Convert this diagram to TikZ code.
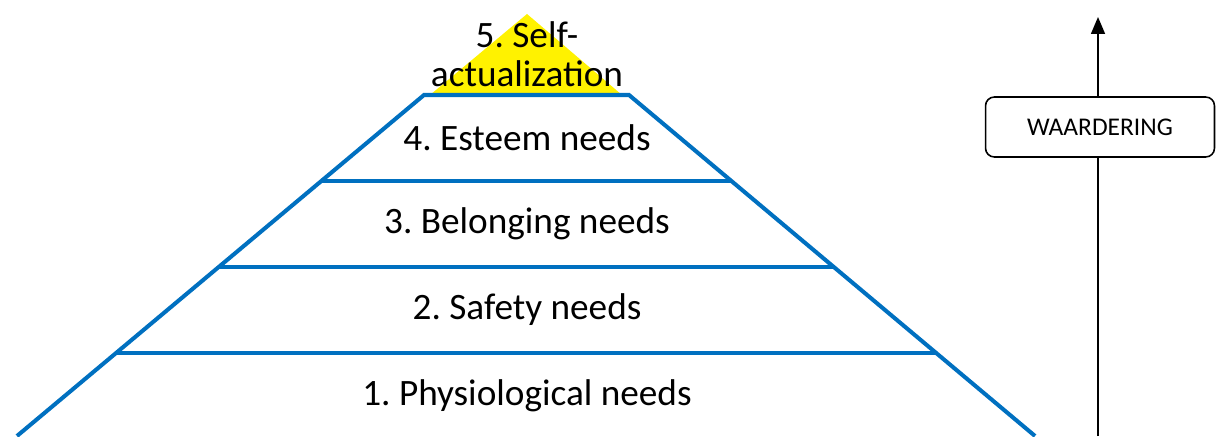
\documentclass[tikz,border=0pt]{standalone}
\usepackage{fontspec}
\setmainfont{Carlito}
\usetikzlibrary{arrows.meta}
\definecolor{lvlblue}{RGB}{0,112,192}
\frenchspacing
\tikzset{
  level/.style={draw=lvlblue, line width=2.3pt},
  needtext/.style={font=\fontsize{21.2}{22.5}\selectfont, align=center, inner sep=0pt},
  valuebox/.style={draw, rounded corners=5pt, line width=0.9pt, minimum width=4.58cm,
    minimum height=1.2cm, font=\fontsize{14.5}{17}\selectfont}
}

\begin{document}
\begin{tikzpicture}[x=0.02cm,y=0.02cm]
\useasboundingbox (0,0) rectangle (1219,436);
% pyramid corners
\coordinate (top) at (527,422);
\coordinate (Y1) at (430,341);  \coordinate (Y2) at (622,341);
\coordinate (L4) at (424,341);  \coordinate (R4) at (629,341);
\coordinate (L3) at (322,255);  \coordinate (R3) at (731,255);
\coordinate (L2) at (219,169);  \coordinate (R2) at (834,169);
\coordinate (L1) at (117,83);   \coordinate (R1) at (936,83);
\coordinate (L0) at (17,0);     \coordinate (R0) at (1035,0);
\fill[yellow] (top) -- (Y1) -- (Y2) -- cycle;
\draw[level] (L0) -- (L4) -- (R4) -- (R0);
\foreach \i in {1,2,3} \draw[level] (L\i) -- (R\i);
\node[needtext] (n5) at (527,382) {5. Self-\\actualization};
\node[needtext] (n4) at (527,298) {4. Esteem needs};
\node[needtext] (n3) at (527,212) {3. Belonging needs};
\node[needtext] (n2) at (527,126) {2. Safety needs};
\node[needtext] (n1) at (527,40) {1. Physiological needs};
% scale on the right
\node[valuebox] (waarde) at (1100,309) {WAARDERING};
\coordinate (bot) at (1098,0);
\coordinate (tip) at (1098,419);
\draw[line width=0.9pt] (bot) -- (bot |- waarde.south);
\draw[line width=0.9pt, -{Triangle[width=0.28cm,length=0.34cm]}] (tip |- waarde.north) -- (tip);
\end{tikzpicture}
\end{document}
